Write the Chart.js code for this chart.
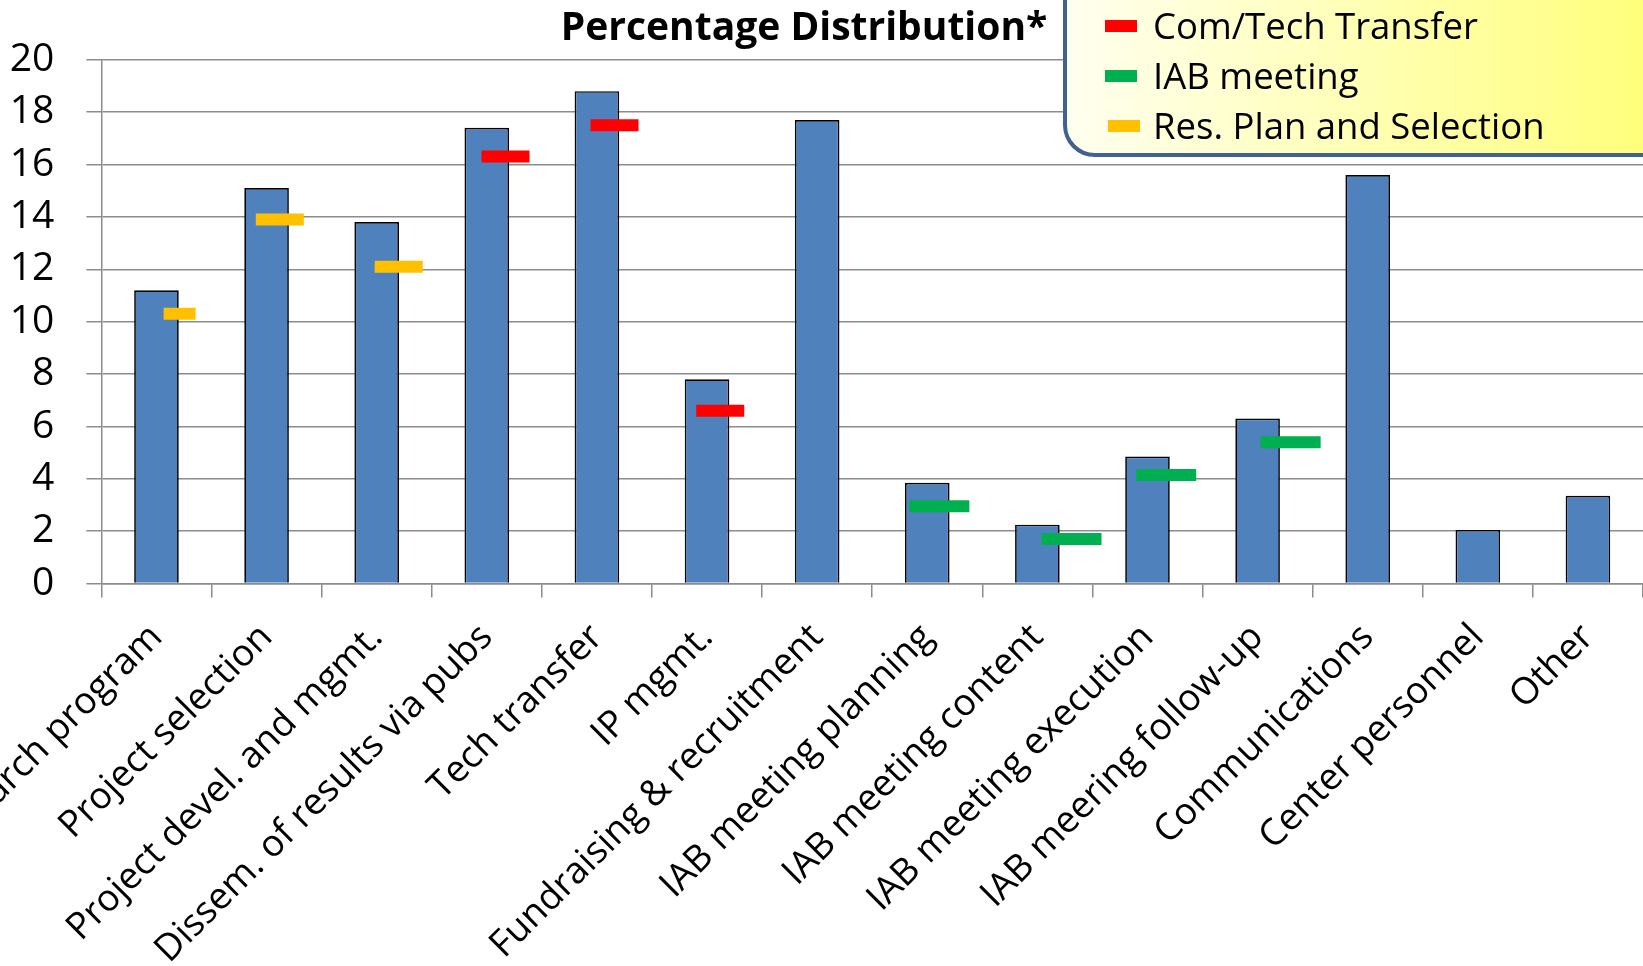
<!DOCTYPE html>
<html>
<head>
<meta charset="utf-8">
<script src="https://cdn.jsdelivr.net/npm/chart.js@4.4.1/dist/chart.umd.min.js"></script>
<style>
    html, body { margin: 0; padding: 0; background: #ffffff; }
    canvas { display: block; }
</style>
</head>
<body>
<canvas id="distChart" width="1643" height="966"></canvas>
<script>
const categories = [
    'Research program', 'Project selection', 'Project devel. and mgmt.',
    'Dissem. of results via pubs', 'Tech transfer', 'IP mgmt.',
    'Fundraising & recruitment', 'IAB meeting planning', 'IAB meeting content',
    'IAB meeting execution', 'IAB meering follow-up', 'Communications',
    'Center personnel', 'Other'
];
const percentages = [11.2, 15.1, 13.8, 17.4, 18.8, 7.8, 17.7, 3.85, 2.25, 4.85, 6.3, 15.6, 2.05, 3.35];

// marker positions are in category units (0 = first category centre)
const comTechX = [3.17, 4.16, 5.12];
const comTechY = [16.3, 17.5, 6.6];
const iabX = [7.11, 8.31, 9.17, 10.3];
const iabY = [2.95, 1.7, 4.15, 5.4];
const resPlanX = [0.21, 1.12, 2.2];
const resPlanY = [10.3, 13.9, 12.1];

const yMin = 0;
const yMax = 20;
const yStep = 2;

const titleText = 'Percentage Distribution*';
const FONT = '"Open Sans", Lato, sans-serif';
const gridColor = '#8c8c8c';

function toPoints(xs, ys) {
    return xs.map((x, i) => ({ x: x, y: ys[i] }));
}

function markerSet(label, xs, ys, color, halfWidth) {
    return {
        type: 'line',
        label: label,
        data: toPoints(xs, ys),
        xAxisID: 'x2',
        showLine: false,
        pointStyle: 'line',
        pointRadius: halfWidth,
        pointHoverRadius: halfWidth,
        pointBorderWidth: 12,
        pointHoverBorderWidth: 12,
        borderColor: color,
        backgroundColor: color,
        pointBorderColor: color,
        order: 0
    };
}

const decorPlugin = {
    id: 'decor',
    afterDraw(chart) {
        const ctx = chart.ctx;
        ctx.save();

        // title
        ctx.fillStyle = '#000';
        ctx.font = 'bold 39px ' + FONT;
        ctx.textAlign = 'center';
        ctx.textBaseline = 'middle';
        ctx.fillText(titleText, 804, 29);

        // legend box
        const bx = 1065, by = -40, bw = 700, bh = 195;
        const grad = ctx.createLinearGradient(bx, 0, 1643, 0);
        grad.addColorStop(0, '#fffff0');
        grad.addColorStop(1, '#ffff7c');
        ctx.beginPath();
        ctx.roundRect(bx, by, bw, bh, 30);
        ctx.fillStyle = grad;
        ctx.fill();
        ctx.lineWidth = 4;
        ctx.strokeStyle = '#41618f';
        ctx.stroke();

        const rows = chart.data.datasets.filter(d => d.type === 'line');
        ctx.font = '36.5px ' + FONT;
        ctx.textAlign = 'left';
        rows.forEach((ds, i) => {
            const cy = 26 + i * 50;
            ctx.fillStyle = ds.pointBorderColor;
            ctx.fillRect(1105 + (i === 2 ? 3 : 0), cy - 6, 32, 12);
            ctx.fillStyle = '#000';
            ctx.fillText(ds.label, 1153, cy + 3);
        });
        ctx.restore();
    }
};

const resPlan = markerSet('Res. Plan and Selection', resPlanX, resPlanY, '#ffc000', 24);
resPlan.pointRadius = [16, 24, 24];
resPlan.pointHoverRadius = [16, 24, 24];

const ctx = document.getElementById('distChart').getContext('2d');
new Chart(ctx, {
    type: 'bar',
    data: {
        labels: categories,
        datasets: [
            {
                type: 'bar',
                label: 'Percentage',
                data: percentages,
                backgroundColor: '#4f81bd',
                borderColor: '#000000',
                borderWidth: 1.7,
                grouped: false,
                barPercentage: 0.405,
                categoryPercentage: 1,
                order: 1
            },
            markerSet('Com/Tech Transfer', comTechX, comTechY, '#ff0000', 24),
            markerSet('IAB meeting', iabX, iabY, '#00b050', 30),
            resPlan
        ]
    },
    options: {
        responsive: false,
        animation: false,
        events: [],
        layout: {
            autoPadding: false,
            padding: { top: 59.7, left: 0, right: -5, bottom: 0 }
        },
        plugins: {
            legend: { display: false },
            title: { display: false },
            tooltip: { enabled: false }
        },
        scales: {
            x: {
                type: 'category',
                offset: true,
                grid: {
                    offset: true,
                    drawOnChartArea: false,
                    drawTicks: true,
                    tickLength: 14,
                    color: gridColor,
                    lineWidth: 1.5
                },
                border: { color: gridColor, width: 1.5 },
                ticks: {
                    color: '#000',
                    font: { family: FONT, size: 37 },
                    maxRotation: 45,
                    minRotation: 45,
                    autoSkip: false,
                    padding: 18
                },
                afterFit(scale) {
                    scale.height = 966 - 583.6;
                    scale.paddingLeft = 0;
                    scale.paddingRight = 0;
                }
            },
            x2: {
                type: 'linear',
                display: false,
                offset: false,
                min: -0.5,
                max: categories.length - 0.5
            },
            y: {
                min: yMin,
                max: yMax,
                grid: {
                    color: gridColor,
                    lineWidth: 1.5,
                    tickLength: 15
                },
                border: { color: gridColor, width: 1.5 },
                ticks: {
                    stepSize: yStep,
                    color: '#000',
                    font: { family: FONT, size: 39 },
                    padding: 32
                },
                afterFit(scale) {
                    scale.width = 101.4;
                    scale.paddingTop = 0;
                    scale.paddingBottom = 0;
                }
            }
        }
    },
    plugins: [decorPlugin]
});
</script>
</body>
</html>
